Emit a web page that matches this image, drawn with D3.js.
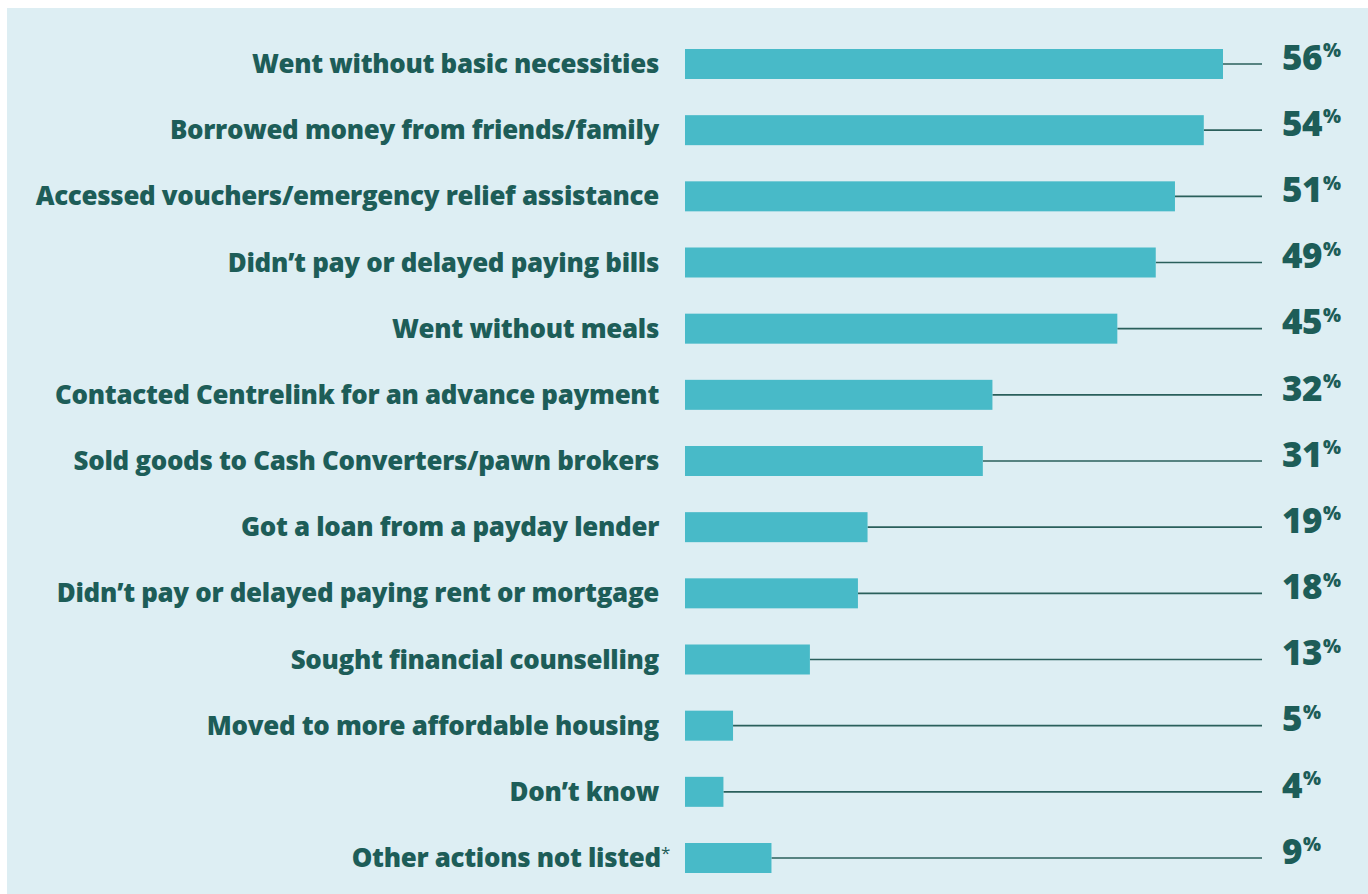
<!DOCTYPE html>
<html>
<head>
<meta charset="utf-8">
<script src="https://cdn.jsdelivr.net/npm/d3@7"></script>
<style>
  html, body { margin: 0; padding: 0; background: #ffffff; }
  svg { display: block; }
</style>
</head>
<body>
<svg id="chart" width="1368" height="894"></svg>
<script>
// Actions taken when short of money (% of respondents)
const categories = [
  "Went without basic necessities",
  "Borrowed money from friends/family",
  "Accessed vouchers/emergency relief assistance",
  "Didn\u2019t pay or delayed paying bills",
  "Went without meals",
  "Contacted Centrelink for an advance payment",
  "Sold goods to Cash Converters/pawn brokers",
  "Got a loan from a payday lender",
  "Didn\u2019t pay or delayed paying rent or mortgage",
  "Sought financial counselling",
  "Moved to more affordable housing",
  "Don\u2019t know",
  "Other actions not listed"
];
const values = [56, 54, 51, 49, 45, 32, 31, 19, 18, 13, 5, 4, 9];
const footnoteMarks = ["", "", "", "", "", "", "", "", "", "", "", "", "*"];

const svg = d3.select("#chart");
const W = 1368, H = 894;

const teal = "#48bac8";
const ink = "#1d5d58";
const bg = "#ddeef3";

// panel background
svg.append("rect")
  .attr("x", 7).attr("y", 8)
  .attr("width", W - 7).attr("height", H - 8)
  .attr("fill", bg);

const x = d3.scaleLinear().domain([0, 56]).range([685, 1223]);
const y = d3.scaleBand()
  .domain(categories)
  .range([49, 873])
  .paddingInner(0.5466)
  .paddingOuter(0);

const lineEnd = 1262;
const rows = svg.append("g").selectAll("g")
  .data(categories.map((c, i) => ({ c, v: values[i], m: footnoteMarks[i] })))
  .join("g");

// leader lines from bar end to value label
rows.append("line")
  .attr("x1", d => x(d.v))
  .attr("x2", lineEnd)
  .attr("y1", d => y(d.c) + y.bandwidth() / 2)
  .attr("y2", d => y(d.c) + y.bandwidth() / 2)
  .attr("stroke", "#2a5f5b")
  .attr("stroke-width", 1.6);

rows.append("rect")
  .attr("x", x(0))
  .attr("y", d => y(d.c))
  .attr("width", d => x(d.v) - x(0))
  .attr("height", y.bandwidth())
  .attr("fill", teal);

// category labels
const lab = rows.append("text")
  .attr("x", d => d.m ? 670 : 659)
  .attr("y", d => y(d.c) + y.bandwidth() / 2)
  .attr("dy", "0.35em")
  .attr("text-anchor", "end")
  .attr("font-family", "'Open Sans', sans-serif")
  .attr("font-weight", 800)
  .attr("font-size", 25.9)
  .attr("letter-spacing", -0.3)
  .attr("fill", ink);
lab.append("tspan").text(d => d.c);
lab.filter(d => d.m).append("tspan")
  .attr("font-size", 17)
  .attr("font-weight", 400)
  .attr("dy", "-0.5em")
  .text(d => d.m);

// value labels
const val = rows.append("text")
  .attr("x", 1282)
  .attr("y", d => y(d.c) + y.bandwidth() / 2)
  .attr("dy", "0.36em")
  .attr("font-family", "'Open Sans', sans-serif")
  .attr("font-weight", 800)
  .attr("fill", ink);
val.append("tspan").attr("font-size", 35).attr("letter-spacing", -0.5).text(d => d.v);
val.append("tspan").attr("font-size", 19).attr("dy", "-0.66em").attr("dx", 1).text("%");
</script>
</body>
</html>
